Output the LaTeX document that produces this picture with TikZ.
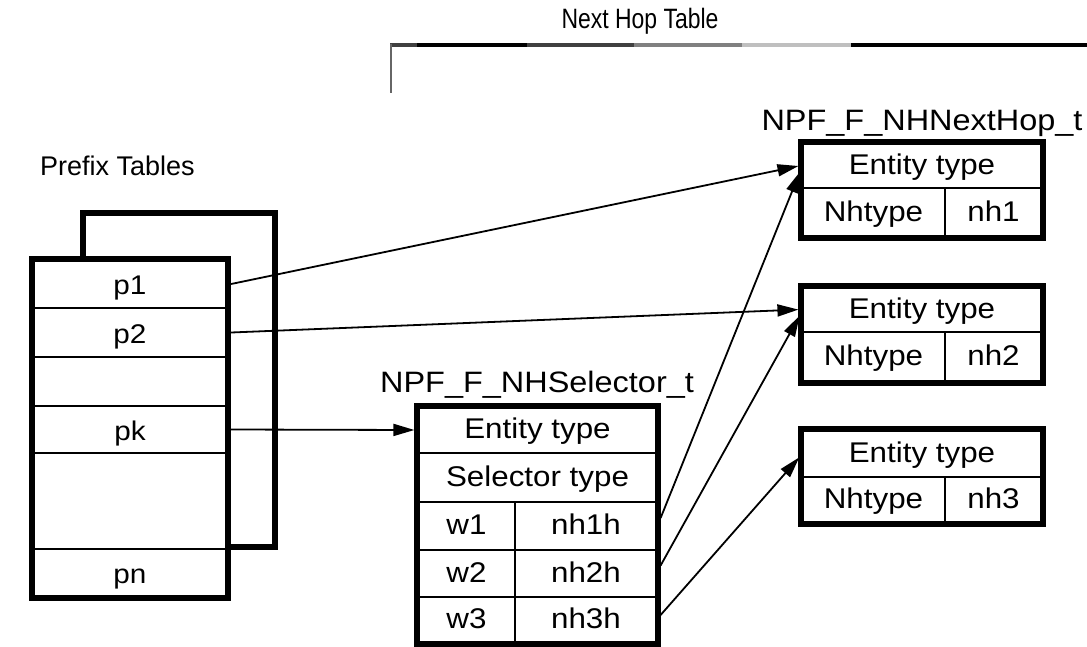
\documentclass[tikz,border=0pt]{standalone}
\usepackage{fontspec}
\setmainfont{Liberation Sans}[FakeStretch=1.1]
\newfontfamily\nhheadfont{Liberation Sans}[FakeStretch=0.82]
\newfontfamily\plainheadfont{Liberation Sans}
\usetikzlibrary{arrows.meta,calc}
\newcommand\cellfnt{\fontsize{28.5}{30}\selectfont}
\newcommand\prefnt{\fontsize{27}{28}\selectfont}
\newcommand\titlefnt{\fontsize{29.5}{31}\selectfont}
\begin{document}
\begin{tikzpicture}[x=1pt,y=-1pt,
  cell/.style={draw, line width=2.2pt, inner sep=0pt, font=\cellfnt, text height=21pt, text depth=4pt},
  pcell/.style={draw, line width=2.2pt, inner sep=0pt, font=\prefnt, text height=21pt, text depth=0pt, minimum width=194pt},
  outerbox/.style={draw, line width=5.5pt},
  prefbox/.style={draw, line width=6pt},
  link/.style={line width=1.8pt, -{Triangle[length=21pt,width=12pt]}, shorten >=2.5pt},
  titletext/.style={font=\titlefnt, inner sep=0pt, anchor=base},
]
\useasboundingbox (0,0) rectangle (1087,646);

% header
\node[font=\nhheadfont\fontsize{28}{29}\selectfont, inner sep=0pt, anchor=base] (nht) at (640,28) {Next Hop Table};
\draw[line width=4pt, black!75] (390,45) -- (417,45);
\draw[line width=4pt, black] (417,45) -- (527,45);
\draw[line width=4pt, black!75] (527,45) -- (634,45);
\draw[line width=4pt, black!50] (634,45) -- (742,45);
\draw[line width=4pt, black!25] (742,45) -- (851,45);
\draw[line width=4pt, black] (851,45) -- (1087,45);
\draw[line width=2pt, black!60] (391,44) -- (391,93);

% prefix tables
\node[font=\plainheadfont\fontsize{27}{28}\selectfont, inner sep=0pt, anchor=base west] (preft) at (40,175) {Prefix Tables};
\draw[prefbox] (83,213) rectangle (275,547);
\fill[white] (33,260) rectangle (227,597);
\node[pcell, minimum height=48pt] (p1) at (130,284) {p1};
\node[pcell, minimum height=49pt] (p2) at (130,332.5) {p2};
\node[pcell, minimum height=49pt] (pb1) at (130,381.5) {};
\node[pcell, minimum height=47pt] (pk) at (130,429.5) {pk};
\node[pcell, minimum height=96pt] (pb2) at (130,501) {};
\node[pcell, minimum height=48pt] (pn) at (130,573) {pn};
\draw[prefbox] (p1.north west) rectangle (pn.south east);

% selector table
\node[titletext] (selt) at (537,392) {NPF\_F\_NHSelector\_t};
\node[cell, minimum width=239pt, minimum height=46pt] (selE) at (537.5,430) {Entity type};
\node[cell, minimum width=239pt, minimum height=49pt] (selS) at (537.5,477.5) {Selector type};
\node[cell, minimum width=97pt, minimum height=48pt] (w1) at (466.5,526) {w1};
\node[cell, minimum width=142pt, minimum height=48pt] (nh1h) at (586,526) {nh1h};
\node[cell, minimum width=97pt, minimum height=47pt] (w2) at (466.5,573.5) {w2};
\node[cell, minimum width=142pt, minimum height=47pt] (nh2h) at (586,573.5) {nh2h};
\node[cell, minimum width=97pt, minimum height=46pt] (w3) at (466.5,620) {w3};
\node[cell, minimum width=142pt, minimum height=46pt] (nh3h) at (586,620) {nh3h};
\draw[outerbox] (selE.north west) rectangle (nh3h.south east);

% next hop tables
\node[titletext] (nhtt) at (922,130) {NPF\_F\_NHNextHop\_t};
\node[cell, minimum width=240pt, minimum height=45pt] (ent1) at (922,165.5) {Entity type};
\node[cell, minimum width=143pt, minimum height=49pt] (nht1) at (873.5,212.5) {Nhtype};
\node[cell, minimum width=97pt, minimum height=49pt] (nh1) at (993.5,212.5) {nh1};
\draw[outerbox] (ent1.north west) rectangle (nh1.south east);

\node[cell, minimum width=240pt, minimum height=45pt] (ent2) at (922,309.5) {Entity type};
\node[cell, minimum width=143pt, minimum height=50pt] (nht2) at (873.5,357) {Nhtype};
\node[cell, minimum width=97pt, minimum height=50pt] (nh2) at (993.5,357) {nh2};
\draw[outerbox] (ent2.north west) rectangle (nh2.south east);

\node[cell, minimum width=240pt, minimum height=47pt] (ent3) at (922,453.5) {Entity type};
\node[cell, minimum width=143pt, minimum height=46pt] (nht3) at (873.5,500) {Nhtype};
\node[cell, minimum width=97pt, minimum height=46pt] (nh3) at (993.5,500) {nh3};
\draw[outerbox] (ent3.north west) rectangle (nh3.south east);

% connectors
\draw[link] ([xshift=3pt]p1.east) -- (ent1.west);
\draw[link] ([xshift=3pt]p2.east) -- (ent2.west);
\draw[link] ([xshift=3pt]pk.east) -- (selE.west);
\draw[link] ([xshift=2.5pt,yshift=8pt]nh1h.east) -- ([yshift=-4pt]ent1.west);
\draw[link] ([xshift=2.5pt,yshift=8pt]nh2h.east) -- ([yshift=-4pt]ent2.west);
\draw[link] ([xshift=2.5pt,yshift=5pt]nh3h.east) -- ([yshift=-2pt]ent3.west);
\end{tikzpicture}
\end{document}
